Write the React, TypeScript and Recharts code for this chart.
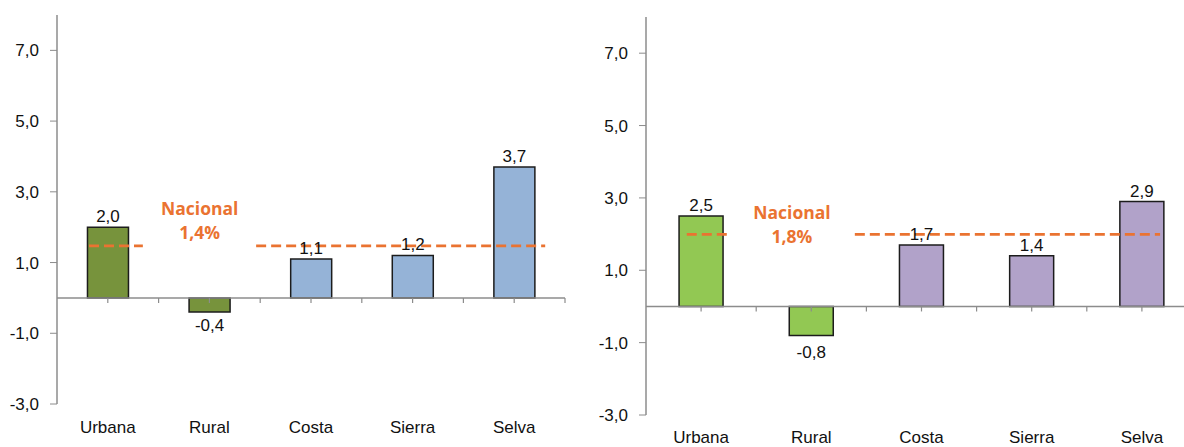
import { Bar, BarChart, Cell, LabelList, ReferenceLine, XAxis, YAxis } from 'recharts';

const categories = ['Urbana', 'Rural', 'Costa', 'Sierra', 'Selva'];
const leftValues = [2.0, -0.4, 1.1, 1.2, 3.7];
const rightValues = [2.5, -0.8, 1.7, 1.4, 2.9];
const leftColors = ['#77933C', '#77933C', '#95B3D7', '#95B3D7', '#95B3D7'];
const rightColors = ['#92C853', '#92C853', '#B1A2C9', '#B1A2C9', '#B1A2C9'];
const yTicks = [-3, -1, 1, 3, 5, 7];
const nacionalLabels = ['1,4%', '1,8%'];
const nacionalLevels = [1.47, 1.99];

const ORANGE = '#EA7331';
const AXIS = '#8C8C8C';
const fmt = (v: number) => v.toFixed(1).replace('.', ',');

interface PanelProps {
  values: number[];
  colors: string[];
  nacional: string;
  level: number;
  width: number;
  top: number;
  bottom: number;
  yAxisWidth: number;
  labelDy: number;
  negDy: number;
  segs: number[][];
  textX: number;
  textDy: number[];
}

function Panel(p: PanelProps) {
  const data = categories.map((name, i) => ({ name, value: p.values[i] }));

  const zeroShape = (props: any) => {
    const { x1, x2, y1 } = props;
    const step = (x2 - x1) / 10;
    const marks = Array.from({ length: 10 }, (_, i) => x1 + step * (i + 1));
    return (
      <g>
        <line x1={x1} x2={x2} y1={y1} y2={y1} stroke={AXIS} strokeWidth={1.5} />
        {marks.map((mx) => (
          <line key={mx} x1={mx} x2={mx} y1={y1} y2={y1 + 5} stroke={AXIS} strokeWidth={1.2} />
        ))}
      </g>
    );
  };

  const nacionalShape = (props: any) => {
    const { x1, x2, y1 } = props;
    const w = x2 - x1;
    return (
      <g>
        {p.segs.map(([a, b]) => (
          <line
            key={a}
            x1={x1 + w * a}
            x2={x1 + w * b}
            y1={y1}
            y2={y1}
            stroke={ORANGE}
            strokeWidth={2.8}
            strokeDasharray="10 5"
          />
        ))}
        <text
          x={x1 + w * p.textX}
          y={y1 + p.textDy[0]}
          textAnchor="middle"
          fill={ORANGE}
          fontFamily="'Open Sans', sans-serif"
          fontWeight={700}
          fontSize={17.5}
        >
          Nacional
        </text>
        <text
          x={x1 + w * p.textX}
          y={y1 + p.textDy[1]}
          textAnchor="middle"
          fill={ORANGE}
          fontFamily="'Open Sans', sans-serif"
          fontWeight={700}
          fontSize={17.5}
        >
          {p.nacional}
        </text>
      </g>
    );
  };

  const valueLabel = (props: any) => {
    const { x, y, width, height, value } = props;
    const top = Math.min(y, y + height);
    const bottom = Math.max(y, y + height);
    const ty = value < 0 ? bottom + p.negDy : top - 5;
    return (
      <text x={x + width / 2} y={ty} textAnchor="middle" fill="#111" fontSize={17}>
        {fmt(value)}
      </text>
    );
  };

  return (
    <BarChart
      width={p.width}
      height={447}
      data={data}
      margin={{ top: p.top, right: 15, bottom: p.bottom, left: 0 }}
      barCategoryGap="30%"
    >
      <XAxis
        dataKey="name"
        axisLine={false}
        tickLine={false}
        tickSize={0}
        tickMargin={0}
        height={30}
        interval={0}
        tick={({ x, y, payload }: any) => (
          <text x={x} y={y + p.labelDy} textAnchor="middle" fill="#111" fontSize={17}>
            {payload.value}
          </text>
        )}
      />
      <YAxis
        width={p.yAxisWidth}
        domain={[-3, 8]}
        ticks={yTicks}
        interval={0}
        tickFormatter={fmt}
        axisLine={{ stroke: AXIS, strokeWidth: 1.5 }}
        tickLine={{ stroke: AXIS }}
        tickSize={7}
        tickMargin={11}
        tick={{ fill: '#111', fontSize: 17 }}
      />
      <Bar dataKey="value" stroke="#1C1C1C" strokeWidth={1.5} isAnimationActive={false}>
        {data.map((d, i) => (
          <Cell key={d.name} fill={p.colors[i]} />
        ))}
        <LabelList dataKey="value" content={valueLabel} />
      </Bar>
      <ReferenceLine y={0} shape={zeroShape} />
      <ReferenceLine y={p.level} shape={nacionalShape} />
    </BarChart>
  );
}

export default function App() {
  return (
    <div
      style={{
        position: 'absolute',
        left: 0,
        top: 0,
        width: 1184,
        height: 447,
        overflow: 'hidden',
        background: '#fff',
        fontFamily: "'Liberation Sans', Arial, sans-serif",
      }}
    >
      <div style={{ position: 'absolute', left: 0, top: 0 }}>
        <Panel
          values={leftValues}
          colors={leftColors}
          nacional={nacionalLabels[0]}
          level={nacionalLevels[0]}
          width={580}
          top={15}
          bottom={13}
          yAxisWidth={57}
          labelDy={29}
          negDy={19}
          segs={[[0.063, 0.169], [0.392, 0.961]]}
          textX={0.281}
          textDy={[-31, -7]}
        />
      </div>
      <div style={{ position: 'absolute', left: 590, top: 0 }}>
        <Panel
          values={rightValues}
          colors={rightColors}
          nacional={nacionalLabels[1]}
          level={nacionalLevels[1]}
          width={622}
          top={17}
          bottom={2}
          yAxisWidth={56}
          labelDy={28}
          negDy={23}
          segs={[[0.074, 0.154], [0.379, 0.933]]}
          textX={0.265}
          textDy={[-15, 9]}
        />
      </div>
    </div>
  );
}
